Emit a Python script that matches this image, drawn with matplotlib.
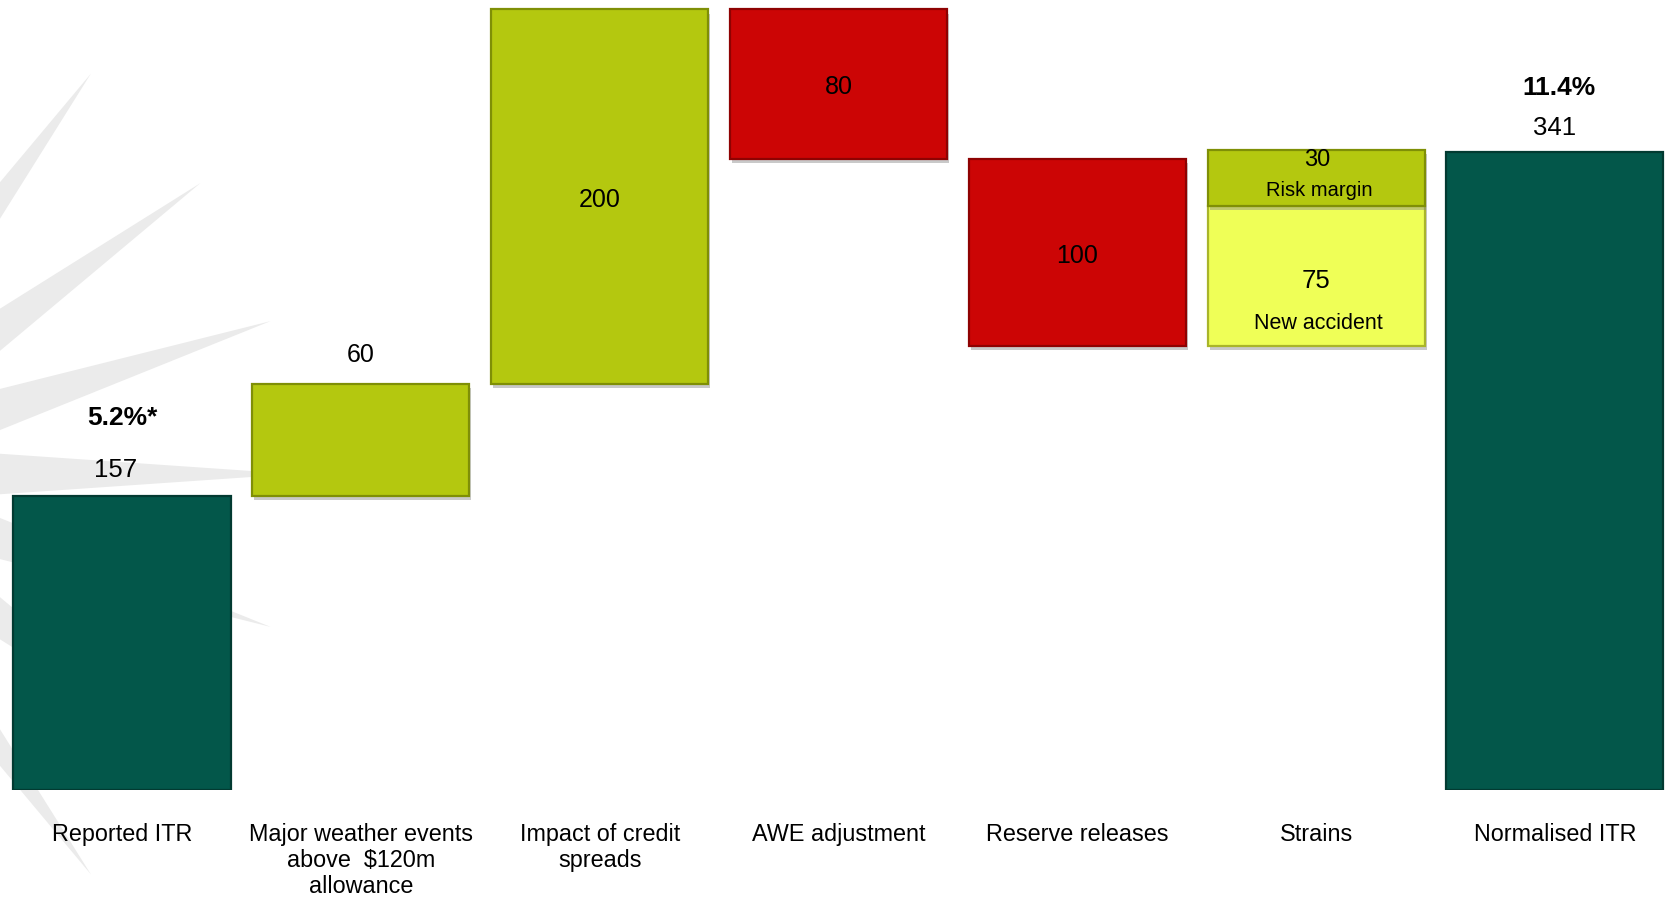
"""
ITR waterfall: reported to normalised insurance trading result ($m)
"""
from matplotlib import pyplot as plt
from matplotlib.patches import Polygon
import matplotlib.patheffects as pe
import numpy as np

plt.rcParams['font.family'] = ['Liberation Sans', 'DejaVu Sans']

#%% Data
categories = ['Reported ITR', 'Major weather events\nabove  $120m\nallowance',
              'Impact of credit\nspreads', 'AWE adjustment', 'Reserve releases',
              'Strains', 'Normalised ITR']
reported_itr = 157
normalised_itr = 341
weather = 60
credit_spreads = 200
awe_adjustment = -80
reserve_releases = -100
strain_new_accident = 75
strain_risk_margin = 30
reported_margin = '5.2%*'
normalised_margin = '11.4%'

# Colours
TEAL = '#03574a'
LIME = '#b4c80f'
RED = '#cc0505'
YELLOW = '#efff57'

#%% Figure
fig = plt.figure(figsize=(16.7, 9), dpi=100)

# Pale starburst behind the chart, drawn in pixel space
bg = fig.add_axes([0, 0, 1, 1], zorder=0)
bg.set_xlim(0, 1670)
bg.set_ylim(900, 0)
bg.axis('off')
cx, cy = -200, 474
for ang in [54, 36, 18, 0, -18, -36, -54]:
    a = np.radians(ang)
    d = np.array([np.cos(a), -np.sin(a)])
    n = np.array([np.sin(a), np.cos(a)])
    tip = np.array([cx, cy]) + 495 * d
    base = np.array([cx, cy])
    bg.add_patch(Polygon([tip, base + 34 * n, base - 34 * n], closed=True,
                         facecolor='#ebebeb', edgecolor='none'))

ax = fig.add_axes([0, 110 / 900, 1, 790 / 900], zorder=1)
ax.patch.set_visible(False)
ax.set_xlim(-0.511, 6.482)
ax.set_ylim(0, 422)
for s in ax.spines.values():
    s.set_visible(False)
ax.set_yticks([])
ax.set_xticks([])

x = np.arange(len(categories))
width = 0.909

shadow = [pe.SimplePatchShadow(offset=(1.5, -3), shadow_rgbFace='#888888', alpha=0.45),
          pe.Normal()]


def draw_bar(xpos, bottom, height, color, edge, with_shadow=True):
    return ax.bar(xpos, height, width, bottom=bottom, color=color, edgecolor=edge,
                  linewidth=1.6, path_effects=shadow if with_shadow else None)


# running totals of the waterfall
level1 = reported_itr + weather
level2 = level1 + credit_spreads
level3 = level2 + awe_adjustment
level4 = level3 + reserve_releases
level5 = level4 + strain_new_accident

draw_bar(x[0], 0, reported_itr, TEAL, '#023a31', with_shadow=False)
draw_bar(x[1], reported_itr, weather, LIME, '#7f8f06')
draw_bar(x[2], level1, credit_spreads, LIME, '#7f8f06')
draw_bar(x[3], level3, -awe_adjustment, RED, '#8e0202')
draw_bar(x[4], level4, -reserve_releases, RED, '#8e0202')
draw_bar(x[5], level4, strain_new_accident, YELLOW, '#a9b52a')
draw_bar(x[5], level5, strain_risk_margin, LIME, '#7f8f06')
draw_bar(x[6], 0, normalised_itr, TEAL, '#023a31', with_shadow=False)


def label(xpos, y, text, dy, size=18.5, bold=False, dx=0):
    ax.annotate(text, (xpos, y), xytext=(dx, dy), textcoords='offset points',
                ha='center', va='baseline', fontsize=size,
                fontweight='bold' if bold else 'normal', color='black')


# labels above the totals
label(x[0], reported_itr, str(reported_itr), 14, dx=-5)
label(x[0], reported_itr, reported_margin, 51, size=19, bold=True)
label(x[6], normalised_itr, str(normalised_itr), 12)
label(x[6], normalised_itr, normalised_margin, 41, size=19, bold=True, dx=3)
label(x[1], level1, str(weather), 15.5, size=18)

# labels inside the moving bars
label(x[2], level1 + credit_spreads / 2, str(credit_spreads), -7.5, size=18)
label(x[3], level3 - awe_adjustment / 2, str(-awe_adjustment), -7.3, size=18)
label(x[4], level4 - reserve_releases / 2, str(-reserve_releases), -7.3, size=18)
label(x[5], level5 + strain_risk_margin / 2, str(strain_risk_margin), 8.6, size=17, dx=1)
label(x[5], level5 + strain_risk_margin / 2, 'Risk margin', -13, size=14.5, dx=2)
label(x[5], level4 + strain_new_accident / 2, str(strain_new_accident), -8.7, size=18.5)
label(x[5], level4 + strain_new_accident / 2, 'New accident', -38, size=15.5, dx=2)

# category names under the axis
for xpos, name in zip(x, categories):
    ax.annotate(name, (xpos, 0), xytext=(0, -23.5), textcoords='offset points',
                ha='center', va='top', fontsize=16.8, linespacing=1.17,
                annotation_clip=False)

plt.savefig('out.png', dpi=100)
